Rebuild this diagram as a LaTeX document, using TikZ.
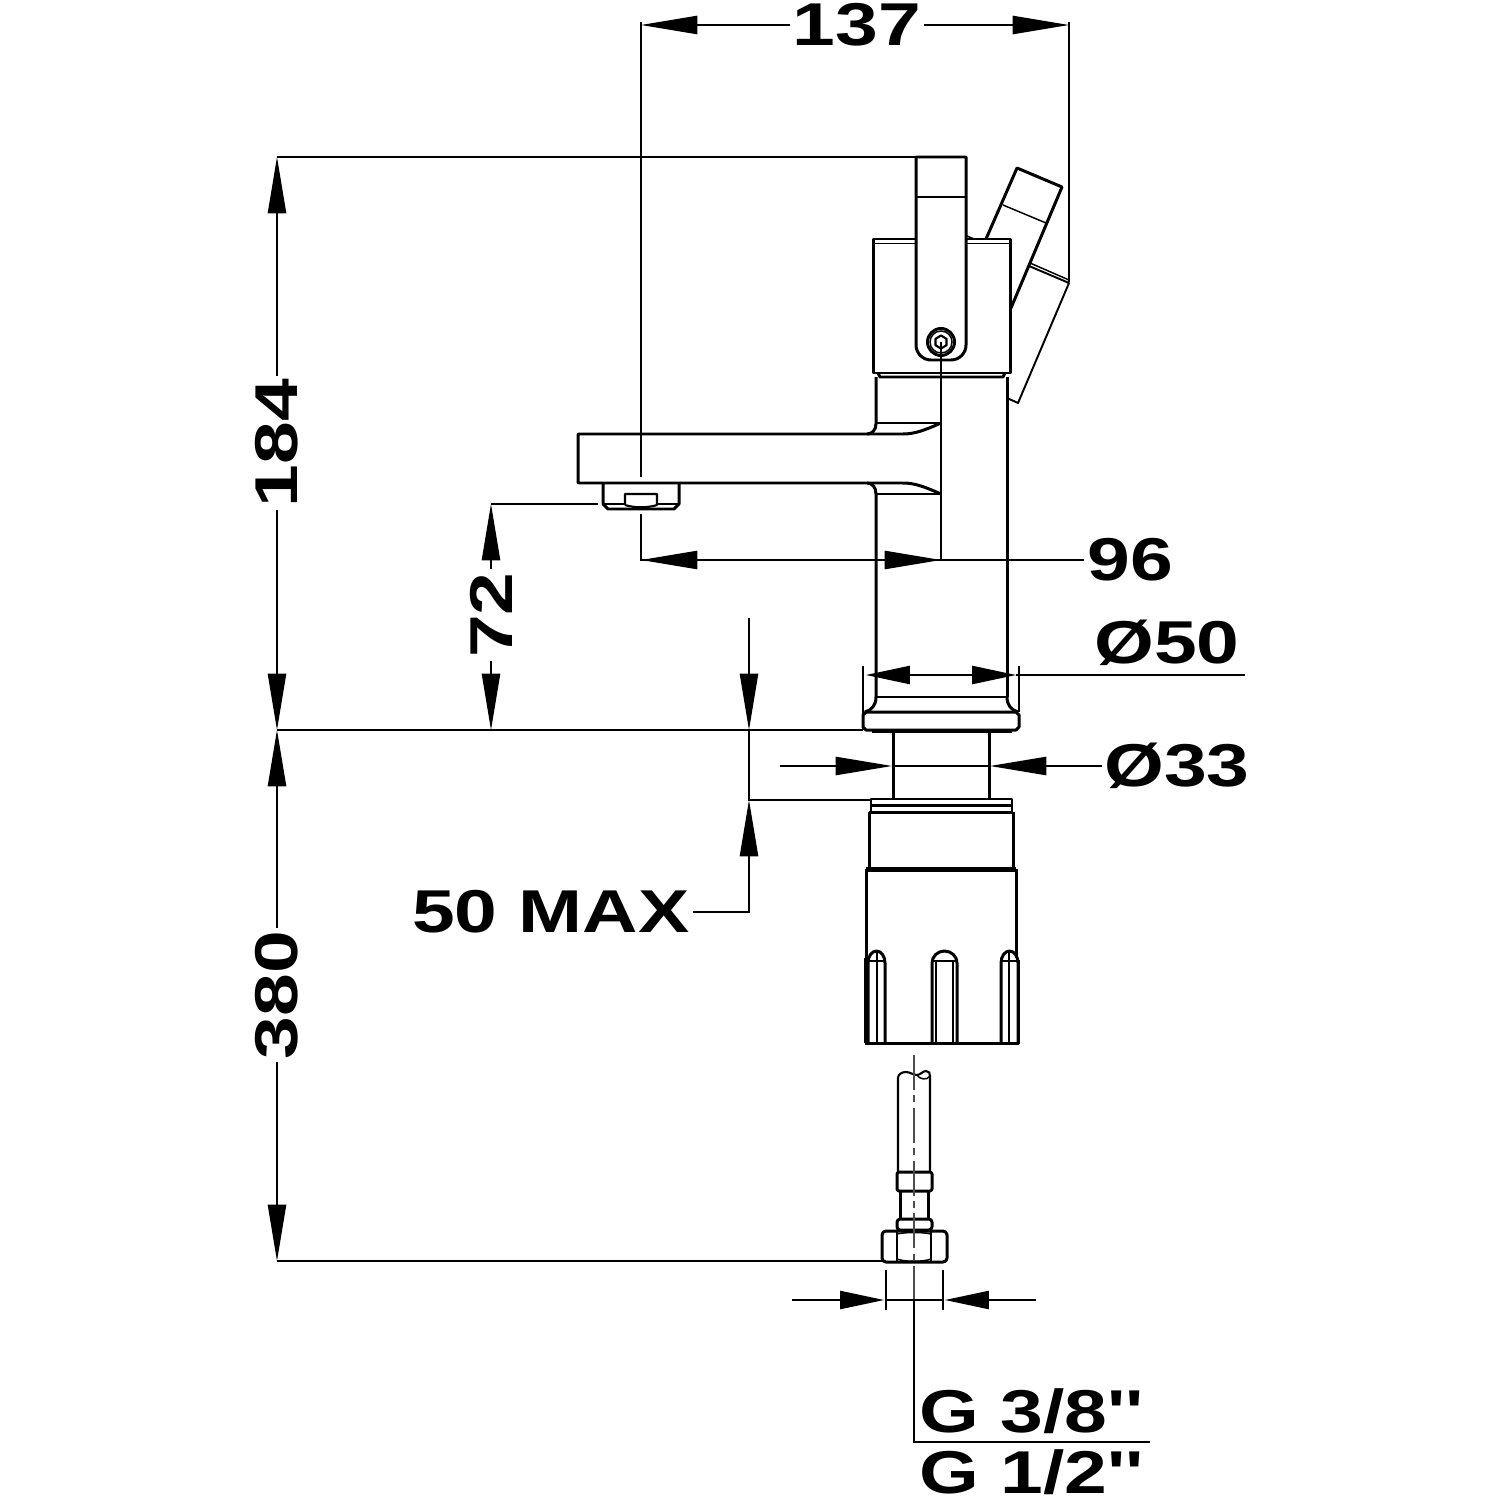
\documentclass[tikz,border=0pt]{standalone}
\usepackage{fontspec}
\newfontfamily\dimfont[FakeStretch=1.27]{Liberation Sans Bold}
\usetikzlibrary{arrows.meta}
\tikzset{
body/.style={line width=.85pt, line join=round},
thin line/.style={line width=.42pt},
dimtip/.style={thin line, -{Triangle[length=16pt,width=5.2pt]}},
shorttip/.style={thin line, -{Triangle[length=12.5pt,width=5.2pt]}},
dimlabel/.style={font=\dimfont\fontsize{17.2}{19}\selectfont, inner sep=.6pt},
axis/.style={thin line, black!70, dash pattern=on 10pt off 1.5pt on 2pt off 1.5pt}
}
\begin{document}
\begin{tikzpicture}[x=.01cm, y=-.01cm]
\useasboundingbox (0,0) rectangle (1500,1500);
% lever and handle
\draw[body] (916,157) -- (966,157) -- (966,345) arc[start angle=0, end angle=90, radius=15] -- (931,360) arc[start angle=90, end angle=180, radius=15] -- cycle;
\draw[thin line] (916,197) -- (966,197);
\draw[body] (941,342) circle[radius=13.5];
\draw[thin line] (941,342) circle[radius=11];
\draw[body, line width=.6pt] (941,335.5) -- (946.5,338.8) -- (946.5,345.2) -- (941,348.5) -- (935.5,345.2) -- (935.5,338.8) -- cycle;
\draw[body] (986,239) -- (1017,168) -- (1062,187) -- (1011,308);
\draw[thin line] (1003,205) -- (1046,223);
\draw[body, line width=.55pt] (1029,266) -- (1069,283) -- (1018,403) -- (1007,398);
\draw[thin line] (1030,263) -- (1069,280);
\draw[thin line] (967,236) -- (974,239);
% head
\draw[body] (916,239) -- (873,239) -- (873,373) -- (1010,373) -- (1010,239) -- (966,239);
\draw[thin line] (873,243.5) -- (916,243.5) (966,243.5) -- (1010,243.5);
\draw[body] (878,373) -- (880,377) -- (1003,377) -- (1005,373);
% column and spout
\draw[body] (876,377) -- (876,424) .. controls (876,430) and (872,434) .. (867,434) -- (578,434) -- (578,483) -- (867,483) .. controls (872,483) and (876,487) .. (876,494) -- (876,697);
\draw[body] (867,434) -- (903,434) .. controls (915,434) and (925,430) .. (941,423);
\draw[body] (867,483) -- (903,483) .. controls (915,483) and (925,487) .. (941,494);
\draw[thin line] (876,423) -- (941,423) (876,494) -- (941,494);
\draw[body] (1007,377) -- (1007,697);
% aerator
\draw[body] (603,483) -- (603,504) -- (608,509) -- (674,509) -- (679,504) -- (679,483);
\draw[thin line] (604,504) -- (625,504) (657,504) -- (678,504);
\draw[body, line width=.6pt] (625,505) -- (625,494) -- (657,494) -- (657,505) .. controls (648,508) and (634,508) .. (625,505);
% base flange
\draw[thin line] (876,697) -- (1007,697);
\draw[body] (876,697) .. controls (876,705) and (872,710) .. (865,712) (1007,697) .. controls (1007,705) and (1011,710) .. (1018,712);
\draw[body] (866,712) -- (1016,712) -- (1019,715) -- (1019,727) -- (1016,730) -- (866,730) -- (863,727) -- (863,715) -- cycle;
\draw[body, line width=1.2pt] (872,731) -- (1012,731);
% shank
\draw[body] (893,731) -- (893,799) (989,731) -- (989,799);
% fixing nut
\draw[body, line width=.6pt] (871,811) -- (871,799) -- (1012,799) -- (1012,811);
\draw[body] (871,805.5) -- (1012,805.5);
\draw[body] (869,812) -- (1013,812);
\draw[body] (869,812) -- (869,869) (1013,812) -- (1013,869);
\draw[body, line width=1.2pt] (866,869.5) -- (1016,869.5);
\draw[body] (866,869) -- (866,958) (1016,869) -- (1016,958);
\draw[body, line width=1.2pt] (866,958) -- (866,1043);
\draw[body] (865,1043) -- (1018,1043) -- (1018,960);
% slots
\foreach \xa/\xb in {868/885, 932/957, 1001/1018}{
\draw[body] (\xa,1043) -- (\xa,963) arc[x radius={(\xb-\xa)/2}, y radius=12, start angle=180, end angle=360] -- (\xb,1043);
\draw[thin line] (\xa,961) -- (\xb,961);
}
\draw[thin line] (877,951) -- (877,1043) (1009,951) -- (1009,1043) (936,961) -- (936,1043) (953,961) -- (953,1043);
% hose
\draw[body, line width=.6pt] (898,1172) -- (898,1078) .. controls (898,1074) and (902,1072) .. (906,1072) .. controls (910,1072) and (913,1075) .. (917,1075) .. controls (920,1075) and (923,1071) .. (926,1071) .. controls (929,1071) and (930,1073) .. (930,1076) -- (930,1172);
\draw[thin line] (917,1075) .. controls (919,1079) and (927,1081) .. (930,1076);
\draw[body, rounded corners=.6pt] (897,1172) rectangle (932,1191);
\draw[body] (900,1191) -- (900,1219) (928,1191) -- (928,1219);
\draw[body, rounded corners=.9pt] (897,1219) rectangle (932,1230);
\draw[body, rounded corners=1.1pt] (882,1231) rectangle (947,1262);
\draw[thin line] (897,1231) -- (897,1261) (931,1231) -- (931,1261);
\draw[thin line] (897,1234) .. controls (905,1232) and (923,1232) .. (931,1234);
\draw[thin line] (897,1259) .. controls (905,1262) and (923,1262) .. (931,1259);
\draw[axis] (914,1055) -- (914,1300);
% named points of the dimensions
\coordinate (top l) at (641,25);
\coordinate (top r) at (1069,25);
\coordinate (spoutend) at (641,560);
\coordinate (axisend) at (941,560);
\coordinate (high) at (277,157);
\coordinate (deck) at (277,730);
\coordinate (hosend) at (277,1261);
\coordinate (deck b) at (491,730);
\coordinate (outlet) at (491,504);
\coordinate (deck m) at (749,730);
\coordinate (under) at (749,800);
% labels
\node[dimlabel] (l137) at (857,25) {137};
\node[dimlabel] (l96) at (1130,560) {96};
\node[dimlabel, rotate=90] (l184) at (277,443) {184};
\node[dimlabel, rotate=90] (l380) at (277,995) {380};
\node[dimlabel, rotate=90] (l72) at (491,615) {72};
\node[dimlabel] (lmax) at (551,912) {50 MAX};
\node[dimlabel] (l50) at (1167,643) {Ø50};
\node[dimlabel] (l33) at (1177,766) {Ø33};
\node[dimlabel] (lg38) at (1032,1411) {G 3/8''};
\node[dimlabel] (lg12) at (1032,1472) {G 1/2''};
% dimensions
\draw[dimtip] (l137) -- (top l);
\draw[dimtip] (l137) -- (top r);
\draw[thin line] (641,22) -- (641,477) (641,514) -- (641,561);
\draw[thin line] (1069,22) -- (1069,282);
\draw[dimtip] (l96) -- (spoutend);
\draw[dimtip] (spoutend) -- (axisend);
\draw[thin line] (941,342) -- (941,560);
\draw[dimtip] (l184) -- (high);
\draw[dimtip] (l184) -- (deck);
\draw[dimtip] (l380) -- (deck);
\draw[dimtip] (l380) -- (hosend);
\draw[thin line] (high) -- (916,157);
\draw[thin line] (deck) -- (863,730);
\draw[thin line] (hosend) -- (882,1261);
\draw[dimtip] (l72) -- (outlet);
\draw[dimtip] (l72) -- (deck b);
\draw[thin line] (outlet) -- (598,504);
\draw[dimtip] (749,618) -- (deck m);
\draw[thin line] (deck m) -- (under) -- (870,800);
\draw[dimtip] (lmax.east) -- (749,912) -- (under);
% diameters
\draw[thin line] (863,666) -- (863,730) (1019,666) -- (1019,712);
\draw[shorttip] (941,675) -- (866,675);
\draw[shorttip] (941,675) -- (1016,675);
\draw[thin line] (1016,675) -- (1245,675);
\draw[dimtip] (780,766) -- (892,766);
\draw[dimtip] (l33) -- (990,766);
\draw[thin line] (892,766) -- (990,766);
\draw[shorttip] (792,1300) -- (884,1300);
\draw[shorttip] (1036,1300) -- (945,1300);
\draw[thin line] (886,1270) -- (886,1310) (943,1270) -- (943,1310) (886,1300) -- (943,1300);
\draw[thin line] (914,1300) -- (914,1442) -- (1150,1442);
\end{tikzpicture}
\end{document}
